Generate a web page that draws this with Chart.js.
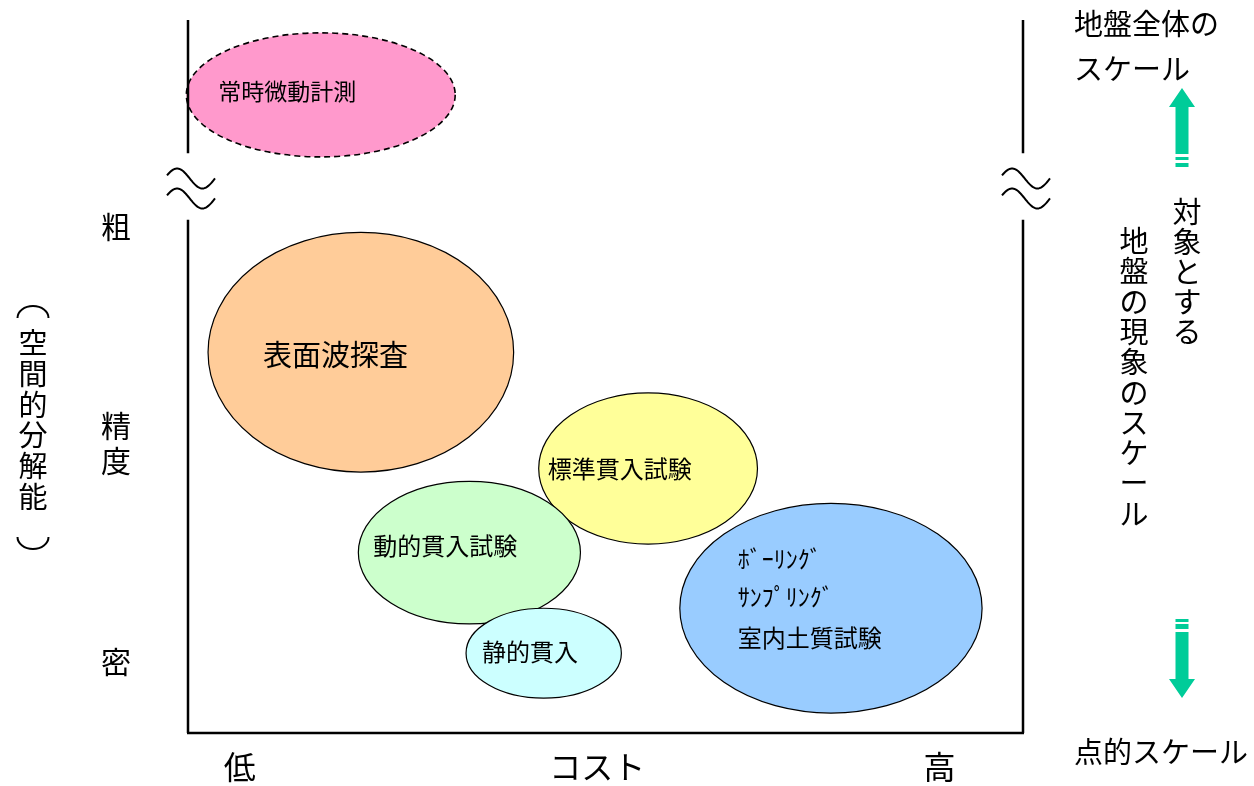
<!DOCTYPE html>
<html>
<head>
<meta charset="utf-8">
<script src="https://cdn.jsdelivr.net/npm/chart.js@4"></script>
<style>
body { margin: 0; background: #fff; }
#wrap { width: 1254px; height: 786px; }
</style>
</head>
<body>
<div id="wrap"><canvas id="MethodChart" width="1254" height="786"></canvas></div>
<script>
// 調査手法（コスト × 空間的分解能）
const methods = [
	["常時微動計測"],
	["表面波探査"],
	["ﾎﾞｰﾘﾝｸﾞ", "ｻﾝﾌﾟﾘﾝｸﾞ", "室内土質試験"],
	["標準貫入試験"],
	["動的貫入試験"],
	["静的貫入"],
];
const costCenter = [15.9, 20.7, 77.0, 55.1, 33.7, 42.6];
const costSpread = [16.1, 18.3, 18.1, 13.1, 13.3, 9.3];
const precisionCenter = [89.5, 53.4, 17.5, 37.1, 25.3, 11.2];
const precisionSpread = [8.7, 16.8, 14.7, 10.6, 10.0, 6.3];
const costTicks = ["低", "コスト", "高"];
const costTickValues = [6.2, 49, 90];
const precisionTicks = ["粗", "精度", "密"];
const precisionTickValues = [71, 40.6, 10];
const axisBreak = [72, 81.3];

const fills = ["#ff99cc", "#ffcc99", "#99ccff", "#ffff99", "#ccffcc", "#ccffff"];
const fontSizes = [23, 29, 24, 24, 24, 24];
const labelInset = [32, 55, 58, 9, 15, 16];
const labelShift = [[-4], [3], [-49, -11, 30], [0], [-7], [-1]];
const FONT = '"Noto Sans CJK JP", "Noto Sans", sans-serif';

function vtext(ctx, str, x, y0, pitch) {
	[...str].forEach((ch, i) => ctx.fillText(ch, x, y0 + i * pitch));
}

function wave(ctx, cx, cy) {
	for (let k = 0; k < 2; k++) {
		ctx.beginPath();
		for (let t = 0; t <= 1.0001; t += 0.02) {
			const px = cx - 24 + 48 * t;
			const py = cy - 10 + k * 20 - 10 * Math.sin(2 * Math.PI * (t * 0.95 + 0.05)) + 2;
			if (t === 0) ctx.moveTo(px, py); else ctx.lineTo(px, py);
		}
		ctx.stroke();
	}
}

const ellipsePlugin = {
	id: "ellipses",
	beforeDatasetsDraw(chart) {
		const ctx = chart.ctx;
		const x = chart.scales.x;
		const y = chart.scales.y;
		ctx.save();
		methods.forEach((lines, i) => {
			const cx = x.getPixelForValue(costCenter[i]);
			const cy = y.getPixelForValue(precisionCenter[i]);
			const rx = Math.abs(x.getPixelForValue(costCenter[i] + costSpread[i]) - cx);
			const ry = Math.abs(y.getPixelForValue(precisionCenter[i] + precisionSpread[i]) - cy);
			ctx.beginPath();
			ctx.ellipse(cx, cy, rx, ry, 0, 0, Math.PI * 2);
			ctx.fillStyle = fills[i];
			ctx.fill();
			ctx.strokeStyle = "#000";
			if (i === 0) {
				ctx.lineWidth = 1.6;
				ctx.setLineDash([6, 4]);
			} else {
				ctx.lineWidth = 1.2;
				ctx.setLineDash([]);
			}
			ctx.stroke();
			ctx.setLineDash([]);
			ctx.fillStyle = "#000";
			ctx.font = fontSizes[i] + "px " + FONT;
			ctx.textAlign = "left";
			ctx.textBaseline = "middle";
			lines.forEach((s, j) => ctx.fillText(s, cx - rx + labelInset[i], cy + labelShift[i][j]));
		});
		ctx.restore();
	},
	afterDraw(chart) {
		const ctx = chart.ctx;
		const x = chart.scales.x;
		const y = chart.scales.y;
		const left = x.getPixelForValue(0);
		const right = x.getPixelForValue(100);
		const bottom = y.getPixelForValue(0);
		const top = y.getPixelForValue(100);
		const b0 = y.getPixelForValue(axisBreak[0]);
		const b1 = y.getPixelForValue(axisBreak[1]);
		ctx.save();
		// 軸（途中省略あり）
		ctx.strokeStyle = "#000";
		ctx.lineWidth = 2.5;
		ctx.beginPath();
		[left, right].forEach((px) => {
			ctx.moveTo(px, top);
			ctx.lineTo(px, b1);
			ctx.moveTo(px, b0);
			ctx.lineTo(px, bottom);
		});
		ctx.moveTo(left - 1, bottom);
		ctx.lineTo(right + 1, bottom);
		ctx.stroke();
		ctx.lineWidth = 2;
		wave(ctx, left + 3, (b0 + b1) / 2);
		wave(ctx, right + 3, (b0 + b1) / 2);

		// 目盛ラベル
		ctx.fillStyle = "#000";
		ctx.font = "32px " + FONT;
		ctx.textAlign = "center";
		ctx.textBaseline = "middle";
		costTicks.forEach((s, i) => ctx.fillText(s, x.getPixelForValue(costTickValues[i]), 767));
		ctx.font = "30px " + FONT;
		precisionTicks.forEach((s, i) => {
			const py = y.getPixelForValue(precisionTickValues[i]);
			const n = [...s].length;
			vtext(ctx, s, 116, py - (n - 1) * 17.5, 35);
		});

		// 縦書き（括弧は弧で描く）
		ctx.font = "29px " + FONT;
		vtext(ctx, "空間的分解能", 33, 343, 30.8);
		ctx.lineWidth = 2;
		ctx.beginPath();
		ctx.ellipse(33, 318, 15.5, 12, 0, Math.PI, Math.PI * 2);
		ctx.stroke();
		ctx.beginPath();
		ctx.ellipse(33, 537, 15.5, 12, 0, 0, Math.PI);
		ctx.stroke();
		vtext(ctx, "対象とする", 1187, 212, 30);
		vtext(ctx, "地盤の現象のスケール", 1134, 241, 30.3);

		// 右側ラベル
		ctx.textAlign = "left";
		ctx.fillText("地盤全体の", 1074, 24);
		ctx.fillText("スケール", 1074, 69);
		ctx.fillText("点的スケール", 1074, 752);

		// 矢印
		ctx.fillStyle = "#00cc99";
		ctx.beginPath();
		ctx.moveTo(1182, 88);
		ctx.lineTo(1195, 107);
		ctx.lineTo(1188.5, 107);
		ctx.lineTo(1188.5, 154);
		ctx.lineTo(1175.5, 154);
		ctx.lineTo(1175.5, 107);
		ctx.lineTo(1169, 107);
		ctx.closePath();
		ctx.fill();
		ctx.fillRect(1175.5, 157, 13, 3);
		ctx.fillRect(1175.5, 163, 13, 4);
		ctx.beginPath();
		ctx.moveTo(1182, 698);
		ctx.lineTo(1195, 679);
		ctx.lineTo(1188.5, 679);
		ctx.lineTo(1188.5, 632);
		ctx.lineTo(1175.5, 632);
		ctx.lineTo(1175.5, 679);
		ctx.lineTo(1169, 679);
		ctx.closePath();
		ctx.fill();
		ctx.fillRect(1175.5, 619, 13, 3);
		ctx.fillRect(1175.5, 624, 13, 5);
		ctx.restore();
	},
};

Chart.defaults.font.family = FONT;

const ctx1 = document.getElementById("MethodChart");
const myChart1 = new Chart(ctx1, {
	type: "scatter",
	data: {
		datasets: [
			{
				label: "調査手法",
				data: costCenter.map((v, i) => ({ x: v, y: precisionCenter[i] })),
				pointRadius: 0,
			},
		],
	},
	options: {
		responsive: false,
		animation: false,
		layout: {
			padding: { left: 188, right: 231, top: 20, bottom: 53 },
		},
		plugins: {
			legend: { display: false },
			tooltip: { enabled: false },
		},
		scales: {
			x: { display: false, min: 0, max: 100 },
			y: { display: false, min: 0, max: 100 },
		},
	},
	plugins: [ellipsePlugin],
});
</script>
</body>
</html>
